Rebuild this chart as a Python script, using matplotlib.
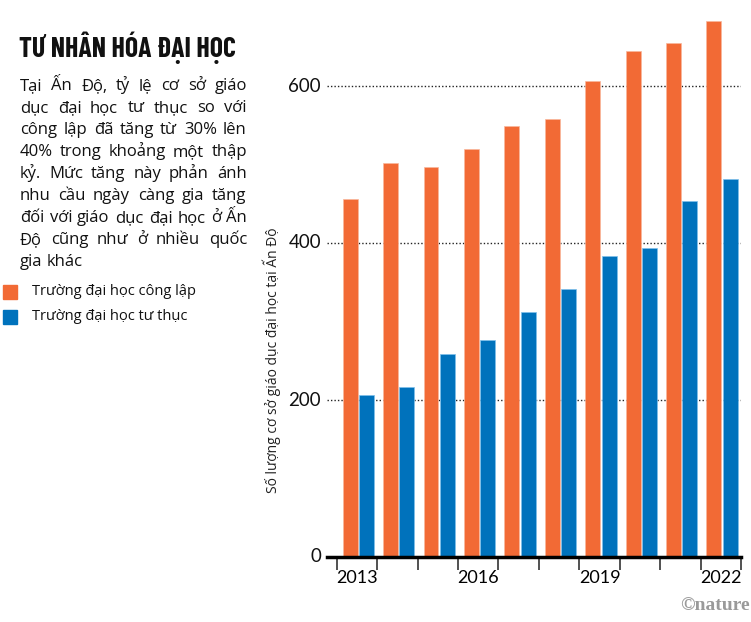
import matplotlib
matplotlib.use("Agg")
import matplotlib.pyplot as plt
import numpy as np

years = [2013, 2014, 2015, 2016, 2017, 2018, 2019, 2020, 2021, 2022]
public = [456, 502, 497, 520, 549, 558, 606, 645, 655, 683]
private = [207, 217, 259, 276, 312, 341, 383, 394, 454, 481]
year_labels = ["2013", "", "", "2016", "", "", "2019", "", "", "2022"]
yticks = [0, 200, 400, 600]

title = "TƯ NHÂN HÓA ĐẠI HỌC"
body_lines = [
    "Tại Ấn Độ, tỷ lệ cơ sở giáo",
    "dục đại học tư thục so với",
    "công lập đã tăng từ 30% lên",
    "40% trong khoảng một thập",
    "kỷ. Mức tăng này phản ánh",
    "nhu cầu ngày càng gia tăng",
    "đối với giáo dục đại học ở Ấn",
    "Độ cũng như ở nhiều quốc",
    "gia khác",
]
legend_labels = ["Trường đại học công lập", "Trường đại học tư thục"]
ylabel = "Số lượng cơ sở giáo dục đại học tại Ấn Độ"

ORANGE = "#F26A35"
BLUE = "#0072BC"

BODY = 'Open Sans'
plt.rcParams['font.family'] = [BODY, 'Noto Sans', 'DejaVu Sans']

W, H = 751, 622
fig = plt.figure(figsize=(W/100, H/100), dpi=100)

def fx(px):
    return px / W

def fy(py):
    return 1 - py / H

ax = fig.add_axes([fx(326.7), fy(557), fx(741) - fx(326.7), fy(7.5) - fy(557)])
x = np.arange(len(years))
bw = 0.37
ax.bar(x - 0.17, public, width=bw, color=ORANGE, edgecolor="#F9B89C", linewidth=0.5, zorder=3)
ax.bar(x + 0.235, private, width=bw, color=BLUE, edgecolor="#7FC0EA", linewidth=0.5, zorder=3)
ax.set_xlim(-0.75, 9.5)
ax.set_ylim(0, 700)

for s in ["top", "right", "left"]:
    ax.spines[s].set_visible(False)
ax.spines["bottom"].set_linewidth(2.5)
ax.spines["bottom"].set_zorder(5)

ax.set_yticks(yticks[1:])
ax.set_yticklabels([])
ax.tick_params(axis="y", length=0)
for v in yticks[1:]:
    ax.axhline(v, xmin=0, xmax=1, color="#222222", linestyle=(0, (1, 1.5)), linewidth=1.0, zorder=1)
for v in yticks:
    ax.text(-0.89, v, str(v), ha="right", va="center", fontsize=13.5, color="#111111",
            family="Lato")

ax.set_xticks(np.arange(-0.5, 10, 1.0))
ax.set_xticklabels([])
ax.tick_params(axis="x", length=9, width=1.2, color="#333333", direction="out")
ax.set_xticks(x, minor=True)
ax.set_xticklabels(year_labels, minor=True, fontsize=13, family="Lato")
ax.tick_params(axis="x", which="minor", length=0, pad=9.5)

fig.text(fx(271.5), fy(360), ylabel, rotation=90, ha="center", va="center", fontsize=10, color="#222222")

# title
fig.text(fx(19), fy(57), title, ha="left", va="baseline", fontsize=20, fontweight="bold",
         family=["Barlow Condensed", "DejaVu Sans"], color="#111111")

# justified body text, one text per word
fig.canvas.draw()
renderer = fig.canvas.get_renderer()
fs = 12
left_px, right_px = 20, 247
for i, line in enumerate(body_lines):
    yb = 90 + i * 22
    words = line.split(" ")
    texts, widths = [], []
    for w in words:
        t = fig.text(0, fy(yb), w, fontsize=fs, va="baseline", ha="left", color="#111111",
                     family=BODY)
        widths.append(t.get_window_extent(renderer=renderer).width)
        texts.append(t)
    if i < len(body_lines) - 1:
        gap = (right_px - left_px - sum(widths)) / (len(words) - 1)
    else:
        sp = fig.text(0, 0, "a a", fontsize=fs, family=BODY)
        sp2 = fig.text(0, 0, "aa", fontsize=fs, family=BODY)
        gap = sp.get_window_extent(renderer=renderer).width - sp2.get_window_extent(renderer=renderer).width
        sp.remove(); sp2.remove()
    cx = left_px
    for t, wd in zip(texts, widths):
        t.set_position((fx(round(cx)), fy(yb)))
        cx += wd + gap

# legend
for j, (lab, col) in enumerate(zip(legend_labels, [ORANGE, BLUE])):
    cy = 291.5 + j * 25
    fig.patches.append(plt.Rectangle((fx(3), fy(cy + 7)), fx(14), fy(0) - fy(14),
                                     transform=fig.transFigure, color=col, figure=fig))
    fig.text(fx(32), fy(cy), lab, ha="left", va="center", fontsize=10.5, color="#111111",
             family=BODY)

fig.text(fx(750), fy(606), "©nature", ha="right", va="center", fontsize=14, fontweight="bold",
         family="Liberation Serif", color="#9a9a9a")

fig.savefig("out.png", dpi=100)
